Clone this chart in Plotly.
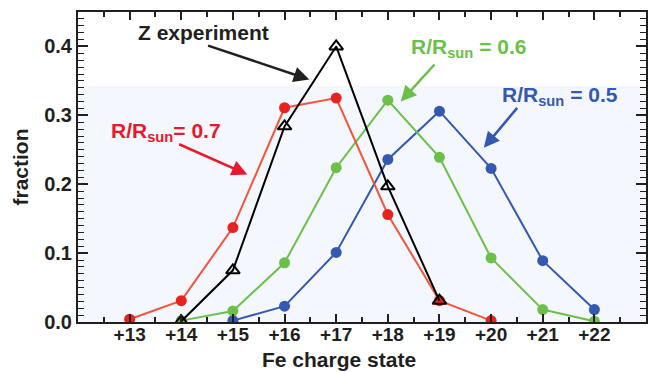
import plotly.graph_objects as go

# Fe charge states
charge = [13, 14, 15, 16, 17, 18, 19, 20, 21, 22]
tick_text = ["+13", "+14", "+15", "+16", "+17", "+18", "+19", "+20", "+21", "+22"]

# Model fractions at three solar radii
r07_x = [13, 14, 15, 16, 17, 18, 19, 20]
r07_y = [0.004, 0.031, 0.137, 0.311, 0.325, 0.156, 0.031, 0.002]

r06_x = [14, 15, 16, 17, 18, 19, 20, 21, 22]
r06_y = [0.002, 0.016, 0.086, 0.224, 0.322, 0.239, 0.093, 0.018, 0.001]

r05_x = [15, 16, 17, 18, 19, 20, 21, 22]
r05_y = [0.002, 0.023, 0.101, 0.236, 0.306, 0.223, 0.089, 0.018]

# Z-machine measurement
z_x = [14, 15, 16, 17, 18, 19]
z_y = [0.001, 0.075, 0.284, 0.400, 0.197, 0.031]

FONT = "Liberation Sans, Arial, Helvetica, sans-serif"
INK = "#231f20"
RED_LINE, RED_MARK = "#f2553b", "#e8231f"
GREEN = "#6cc04a"
BLUE = "#3559b0"

fig = go.Figure()

# pale shaded band behind the curves
fig.add_shape(type="rect", xref="x", yref="y", x0=12, x1=23, y0=0, y1=0.343,
              fillcolor="#f4f7fd", line_width=0, layer="below")

fig.add_trace(go.Scatter(x=r05_x, y=r05_y, mode="lines+markers",
                         line=dict(color=BLUE, width=2),
                         marker=dict(color=BLUE, size=11), showlegend=False))
fig.add_trace(go.Scatter(x=r06_x, y=r06_y, mode="lines+markers",
                         line=dict(color=GREEN, width=2),
                         marker=dict(color=GREEN, size=11), showlegend=False))
fig.add_trace(go.Scatter(x=r07_x, y=r07_y, mode="lines+markers",
                         line=dict(color=RED_LINE, width=2),
                         marker=dict(color=RED_MARK, size=11), showlegend=False))
fig.add_trace(go.Scatter(x=z_x, y=z_y, mode="lines+markers",
                         line=dict(color="black", width=2),
                         marker=dict(symbol="triangle-up-open", color="black", size=12,
                                     line=dict(width=2)),
                         showlegend=False))

def label(text, x, y, color):
    fig.add_annotation(x=x, y=y, xref="x", yref="y", text=text, showarrow=False,
                       font=dict(family=FONT, size=21, color=color))

def arrow(x0, y0, x1, y1, color):
    fig.add_annotation(x=x1, y=y1, ax=x0, ay=y0, xref="x", yref="y",
                       axref="x", ayref="y", text="", showarrow=True,
                       arrowhead=2, arrowsize=1.25, arrowwidth=2.5, arrowcolor=color)

label("<b>Z experiment</b>", 14.43, 0.420, INK)
arrow(14.49, 0.402, 16.48, 0.352, INK)

label("<b>R/R<sub>sun</sub>= 0.7</b>", 13.70, 0.276, "#e8192c")
arrow(13.93, 0.259, 15.28, 0.214, "#e8192c")

label("<b>R/R<sub>sun</sub> = 0.6</b>", 19.57, 0.398, GREEN)
arrow(18.93, 0.376, 18.25, 0.320, GREEN)

label("<b>R/R<sub>sun</sub> = 0.5</b>", 21.34, 0.328, BLUE)
arrow(20.53, 0.313, 19.86, 0.253, BLUE)

# x-axis title sits a little left of the plot centre
fig.add_annotation(x=0.46, y=-0.122, xref="paper", yref="paper",
                   xanchor="center", yanchor="middle",
                   text="<b>Fe charge state</b>", showarrow=False,
                   font=dict(family=FONT, size=21, color=INK))

axis_common = dict(showline=True, linecolor=INK, linewidth=2, mirror="ticks",
                   ticks="inside", tickcolor=INK, tickwidth=1.5,
                   showgrid=False, zeroline=False)

fig.update_xaxes(range=[12, 23], tickmode="array", tickvals=charge,
                 ticktext=[f"<b>{t}</b>" for t in tick_text], ticklen=8,
                 ticklabelstandoff=-6,
                 tickfont=dict(family=FONT, size=19, color=INK),
                 minor=dict(dtick=0.5, tick0=12, ticks="inside", ticklen=5,
                            tickcolor=INK, tickwidth=1.5, showgrid=False),
                 **axis_common)
fig.update_yaxes(range=[0, 0.45], tickmode="array", tickvals=[0, 0.1, 0.2, 0.3, 0.4],
                 ticktext=["<b>0.0</b>", "<b>0.1</b>", "<b>0.2</b>", "<b>0.3</b>", "<b>0.4</b>"],
                 ticklen=10,
                 tickfont=dict(family=FONT, size=20, color=INK),
                 minor=dict(dtick=0.01, tick0=0, ticks="inside", ticklen=6,
                            tickcolor=INK, tickwidth=1.2, showgrid=False),
                 title=dict(text="<b>fraction</b>", standoff=10,
                            font=dict(family=FONT, size=21, color=INK)),
                 **axis_common)

fig.update_layout(width=656, height=372, margin=dict(l=78, r=8, t=12, b=50),
                  paper_bgcolor="white", plot_bgcolor="white",
                  font=dict(family=FONT))

fig.write_html("out.html")
